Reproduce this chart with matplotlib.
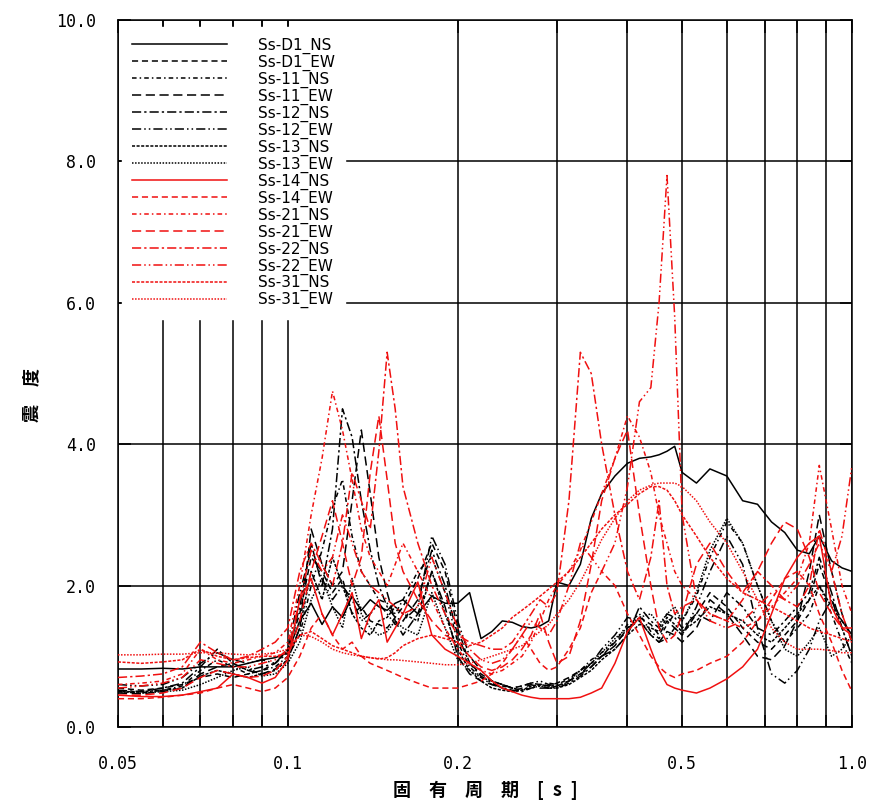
import matplotlib
matplotlib.use("Agg")
import matplotlib.pyplot as plt
from matplotlib.ticker import FixedLocator, NullFormatter

plt.rcParams['font.family'] = ['Noto Sans CJK JP', 'DejaVu Sans']

# natural period [s]
periods = [0.050, 0.055, 0.060, 0.065, 0.070, 0.075, 0.080, 0.085, 0.090, 0.095,
           0.100, 0.105, 0.110, 0.115, 0.120, 0.125, 0.130, 0.135, 0.140, 0.145,
           0.150, 0.155, 0.160, 0.170, 0.180, 0.190, 0.200, 0.210, 0.220, 0.230,
           0.240, 0.250, 0.260, 0.270, 0.280, 0.290, 0.300, 0.315, 0.330, 0.345,
           0.360, 0.380, 0.400, 0.420, 0.440, 0.455, 0.470, 0.485, 0.500, 0.530,
           0.560, 0.600, 0.640, 0.680, 0.720, 0.760, 0.800, 0.840, 0.875, 0.920,
           0.960, 1.000]

ss_d1_ns = [0.82, 0.82, 0.83, 0.82, 0.85, 0.85, 0.85, 0.90, 0.95, 0.98,
            1.05, 1.50, 1.75, 1.45, 1.70, 1.55, 1.85, 1.65, 1.80, 1.70,
            1.65, 1.75, 1.80, 1.60, 1.85, 1.75, 1.75, 1.90, 1.25, 1.35,
            1.50, 1.48, 1.42, 1.40, 1.43, 1.50, 2.05, 2.00, 2.30, 2.95,
            3.30, 3.55, 3.73, 3.80, 3.82, 3.85, 3.90, 3.97, 3.60, 3.45,
            3.65, 3.55, 3.20, 3.15, 2.90, 2.75, 2.50, 2.45, 2.70, 2.35,
            2.25, 2.20]
ss_d1_ew = [0.55, 0.52, 0.55, 0.60, 0.70, 0.75, 0.70, 0.75, 0.80, 0.90,
            1.10, 1.60, 2.40, 2.20, 1.90, 2.10, 1.60, 1.70, 1.50, 1.45,
            1.40, 1.55, 1.70, 2.10, 2.60, 2.20, 1.40, 0.90, 0.75, 0.65,
            0.60, 0.55, 0.58, 0.62, 0.60, 0.58, 0.62, 0.70, 0.80, 0.90,
            1.00, 1.20, 1.35, 1.55, 1.45, 1.30, 1.50, 1.40, 1.30, 1.60,
            1.90, 1.70, 1.40, 1.20, 1.10, 1.30, 1.50, 1.80, 2.30, 1.80,
            1.50, 1.30]
ss_11_ns = [0.50, 0.48, 0.52, 0.58, 0.80, 0.95, 0.85, 0.75, 0.80, 0.85,
            1.00, 1.30, 2.00, 2.50, 3.10, 3.50, 2.70, 2.20, 2.00, 1.80,
            1.75, 1.60, 1.80, 2.20, 2.40, 1.90, 1.20, 0.85, 0.70, 0.60,
            0.58, 0.55, 0.52, 0.55, 0.60, 0.62, 0.60, 0.68, 0.80, 0.95,
            1.05, 1.20, 1.45, 1.60, 1.35, 1.25, 1.45, 1.60, 1.50, 1.85,
            2.40, 2.90, 2.60, 2.00, 1.50, 1.20, 1.40, 1.60, 2.00, 1.60,
            1.20, 0.90]
ss_11_ew = [0.48, 0.47, 0.50, 0.55, 0.75, 0.85, 0.90, 0.80, 0.75, 0.82,
            0.95, 1.40, 2.80, 2.30, 2.00, 2.20, 3.20, 4.20, 3.30, 2.40,
            1.90, 1.50, 1.30, 1.60, 2.20, 1.70, 1.00, 0.75, 0.65, 0.60,
            0.55, 0.50, 0.55, 0.60, 0.55, 0.55, 0.58, 0.65, 0.75, 0.85,
            1.00, 1.15, 1.40, 1.50, 1.30, 1.20, 1.35, 1.30, 1.20, 1.40,
            1.80, 1.60, 1.30, 1.00, 0.95, 1.15, 1.50, 2.20, 3.00, 2.20,
            1.60, 1.20]
ss_12_ns = [0.52, 0.50, 0.55, 0.62, 0.85, 1.10, 0.90, 0.80, 0.85, 0.90,
            1.05, 1.70, 2.60, 2.00, 2.80, 4.50, 4.10, 3.20, 2.50, 2.00,
            1.70, 1.55, 1.50, 1.80, 2.50, 2.00, 1.30, 0.90, 0.72, 0.62,
            0.55, 0.52, 0.50, 0.55, 0.58, 0.55, 0.55, 0.62, 0.72, 0.85,
            1.00, 1.10, 1.30, 1.70, 1.50, 1.40, 1.60, 1.55, 1.40, 1.60,
            1.50, 1.90, 1.70, 1.40, 1.30, 1.50, 1.70, 1.90, 2.40, 1.90,
            1.40, 1.00]
ss_12_ew = [0.60, 0.58, 0.60, 0.70, 0.90, 1.05, 0.95, 0.90, 0.95, 0.90,
            1.10, 1.90, 2.50, 2.10, 1.80, 2.00, 1.80, 1.50, 1.60, 1.75,
            1.60, 1.45, 1.50, 1.70, 2.70, 2.30, 1.50, 1.00, 0.80, 0.65,
            0.60, 0.55, 0.58, 0.62, 0.65, 0.60, 0.58, 0.65, 0.75, 0.90,
            1.10, 1.30, 1.55, 1.50, 1.30, 1.20, 1.25, 1.40, 1.30, 1.70,
            2.20, 2.70, 2.30, 1.40, 0.75, 0.62, 0.80, 1.10, 1.50, 1.80,
            1.40, 1.00]
ss_13_ns = [0.50, 0.50, 0.52, 0.55, 0.72, 0.80, 0.75, 0.70, 0.75, 0.80,
            0.95, 1.40, 2.20, 1.80, 2.40, 2.00, 1.60, 1.40, 1.30, 1.50,
            1.55, 1.70, 1.60, 1.50, 2.20, 1.60, 1.10, 0.80, 0.65, 0.55,
            0.52, 0.50, 0.52, 0.58, 0.60, 0.58, 0.55, 0.60, 0.70, 0.80,
            0.95, 1.10, 1.30, 1.45, 1.40, 1.35, 1.55, 1.45, 1.35, 1.50,
            1.70, 1.60, 1.50, 1.30, 1.20, 1.40, 1.60, 1.80, 2.00, 1.70,
            1.50, 1.30]
ss_13_ew = [0.50, 0.48, 0.50, 0.52, 0.60, 0.70, 0.80, 0.85, 0.72, 0.75,
            0.90, 1.20, 1.80, 2.10, 1.70, 1.40, 2.10, 1.60, 1.40, 1.30,
            1.35, 1.50, 1.40, 1.30, 1.90, 1.40, 0.95, 0.80, 0.70, 0.65,
            0.60, 0.55, 0.52, 0.55, 0.58, 0.55, 0.55, 0.65, 0.80, 0.90,
            1.05, 1.25, 1.40, 1.55, 1.60, 1.45, 1.60, 1.70, 1.50, 1.90,
            2.50, 2.95, 2.60, 2.00, 1.50, 1.10, 1.00, 1.20, 1.40, 1.00,
            1.10, 1.30]
ss_14_ns = [0.45, 0.43, 0.43, 0.45, 0.50, 0.55, 0.75, 0.70, 0.62, 0.70,
            0.95, 1.80, 2.10, 1.60, 1.30, 1.60, 1.90, 1.25, 1.60, 1.80,
            1.20, 1.40, 1.60, 2.05, 1.30, 1.10, 1.00, 0.90, 0.80, 0.65,
            0.55, 0.50, 0.45, 0.42, 0.40, 0.40, 0.40, 0.40, 0.42, 0.48,
            0.55, 0.90, 1.35, 1.55, 1.10, 0.80, 0.60, 0.55, 0.52, 0.48,
            0.55, 0.68, 0.85, 1.10, 1.60, 2.10, 2.40, 2.60, 2.70, 1.70,
            1.40, 1.40]
ss_14_ew = [0.40, 0.40, 0.42, 0.45, 0.48, 0.55, 0.60, 0.55, 0.50, 0.55,
            0.70, 1.00, 1.40, 1.60, 1.30, 1.10, 1.20, 1.00, 0.90, 0.85,
            0.80, 0.75, 0.70, 0.62, 0.55, 0.55, 0.55, 0.60, 0.65, 0.75,
            0.90, 1.10, 1.30, 1.10, 0.90, 0.80, 0.85, 1.10, 1.40, 1.90,
            2.20, 2.00, 1.60, 1.30, 1.00, 0.85, 0.75, 0.70, 0.75, 0.80,
            0.90, 1.00, 1.20, 1.50, 1.80, 2.10, 2.20, 2.00, 1.60, 1.20,
            0.80, 0.50]
ss_21_ns = [0.60, 0.62, 0.65, 0.75, 1.10, 0.95, 0.90, 0.95, 1.00, 1.05,
            1.20, 2.00, 3.00, 3.80, 4.75, 4.20, 3.50, 2.80, 2.40, 2.20,
            2.00, 2.30, 2.60, 2.20, 1.80, 1.40, 1.10, 0.90, 0.80, 0.75,
            0.80, 0.90, 1.00, 1.20, 1.50, 1.80, 2.00, 2.20, 2.50, 2.90,
            3.30, 3.80, 4.40, 4.10, 3.60, 3.00, 2.60, 2.20, 2.00, 1.80,
            1.60, 1.50, 1.40, 1.50, 1.70, 1.90, 2.10, 2.60, 3.70, 2.80,
            2.00, 1.60]
ss_21_ew = [0.45, 0.45, 0.48, 0.55, 0.70, 0.80, 0.75, 0.70, 0.72, 0.80,
            1.00, 1.50, 2.20, 2.70, 3.20, 2.60, 2.00, 2.40, 3.60, 4.40,
            3.50, 2.60, 2.20, 1.80, 1.50, 1.30, 1.20, 1.00, 0.85, 0.80,
            0.85, 0.95, 1.10, 1.30, 1.60, 1.20, 0.90, 1.00, 1.50, 2.30,
            3.20, 3.80, 4.20, 3.00, 2.00, 1.40, 1.20, 1.30, 1.60, 2.30,
            2.60, 2.20, 1.90, 2.20, 2.60, 2.90, 2.80, 2.40, 1.90, 1.60,
            1.40, 1.30]
ss_22_ns = [0.70, 0.72, 0.75, 0.85, 1.20, 1.05, 0.95, 1.00, 1.10, 1.20,
            1.40, 2.20, 2.60, 2.30, 2.00, 2.60, 3.60, 3.20, 2.80, 3.90,
            5.30, 4.50, 3.40, 2.60, 2.00, 1.60, 1.30, 1.20, 1.15, 1.10,
            1.10, 1.20, 1.40, 1.60, 1.80, 1.70, 1.90, 3.20, 5.30, 5.00,
            4.00, 3.00, 2.20, 1.80, 2.40, 3.20, 2.00, 1.60, 1.70, 1.80,
            1.60, 1.50, 1.80, 2.20, 2.00, 1.80, 1.70, 2.00, 2.80, 2.20,
            1.60, 1.20]
ss_22_ew = [0.55, 0.58, 0.62, 0.70, 0.95, 0.90, 0.85, 0.85, 0.90, 0.95,
            1.10, 1.80, 2.50, 2.20, 2.40, 3.00, 2.60, 2.20, 2.00, 1.90,
            1.80, 1.70, 1.60, 1.70, 2.40, 1.90, 1.40, 1.10, 0.95, 0.90,
            0.95, 1.10, 1.30, 1.50, 1.40, 1.30, 1.50, 2.00, 2.60, 2.40,
            2.20, 2.60, 3.40, 4.60, 4.80, 6.00, 7.80, 5.80, 3.00, 1.80,
            1.50, 1.40, 1.50, 1.70, 1.90, 1.80, 2.00, 2.30, 2.60, 2.20,
            2.70, 3.70]
ss_31_ns = [0.92, 0.90, 0.92, 0.95, 1.10, 1.00, 0.95, 0.98, 1.00, 1.00,
            1.05, 1.30, 1.35, 1.25, 1.15, 1.10, 1.05, 1.00, 0.98, 0.96,
            0.98, 1.05, 1.15, 1.25, 1.30, 1.25, 1.20, 1.15, 1.20, 1.30,
            1.40, 1.55, 1.65, 1.75, 1.85, 1.95, 2.05, 2.20, 2.40, 2.60,
            2.80, 3.00, 3.15, 3.30, 3.40, 3.40, 3.35, 3.20, 3.00, 2.70,
            2.40, 2.10, 1.90, 1.80, 1.70, 1.60, 1.50, 1.40, 1.35, 1.30,
            1.25, 1.20]
ss_31_ew = [1.02, 1.02, 1.03, 1.03, 1.05, 1.05, 1.03, 1.02, 1.03, 1.05,
            1.10, 1.30, 1.28, 1.20, 1.10, 1.05, 1.02, 1.00, 0.98, 0.97,
            0.95, 0.95, 0.94, 0.92, 0.90, 0.88, 0.88, 0.90, 0.95, 1.00,
            1.05, 1.10, 1.15, 1.25, 1.35, 1.45, 1.60, 1.80, 2.05, 2.35,
            2.65, 2.95, 3.20, 3.35, 3.42, 3.45, 3.45, 3.45, 3.40, 3.20,
            2.90, 2.60, 2.20, 1.80, 1.40, 1.20, 1.10, 1.10, 1.10, 1.08,
            1.05, 1.05]

names = ['Ss-D1_NS', 'Ss-D1_EW', 'Ss-11_NS', 'Ss-11_EW', 'Ss-12_NS', 'Ss-12_EW',
         'Ss-13_NS', 'Ss-13_EW', 'Ss-14_NS', 'Ss-14_EW', 'Ss-21_NS', 'Ss-21_EW',
         'Ss-22_NS', 'Ss-22_EW', 'Ss-31_NS', 'Ss-31_EW']
series = [ss_d1_ns, ss_d1_ew, ss_11_ns, ss_11_ew, ss_12_ns, ss_12_ew,
          ss_13_ns, ss_13_ew, ss_14_ns, ss_14_ew, ss_21_ns, ss_21_ew,
          ss_22_ns, ss_22_ew, ss_31_ns, ss_31_ew]

# dash patterns, the same sequence is used for the black and the red group
dashes = ['-', (0, (4, 2.5)), (0, (3, 2, 1, 2)), (0, (6, 3)),
          (0, (6, 2, 1.5, 2)), (0, (6, 2, 1, 2, 1, 2)), (0, (2, 1)), (0, (1, 1))]
colors = ['black'] * 8 + ['#f01010'] * 8

fig = plt.figure(figsize=(8.77, 8.09), dpi=100)
ax = fig.add_axes([0.1345, 0.1014, 0.8370, 0.8739])

for i, (name, vals) in enumerate(zip(names, series)):
    ax.plot(periods, vals, color=colors[i], linestyle=dashes[i % 8],
            linewidth=1.1, label=name, zorder=3)

ax.set_xscale('log')
ax.set_xlim(0.05, 1.0)
ax.set_ylim(0, 10)
ax.set_xticks([0.05, 0.1, 0.2, 0.5, 1.0])
ax.set_xticklabels(['0.05', '0.1', '0.2', '0.5', '1.0'])
ax.xaxis.set_minor_locator(FixedLocator([0.06, 0.07, 0.08, 0.09, 0.3, 0.4,
                                         0.6, 0.7, 0.8, 0.9]))
ax.xaxis.set_minor_formatter(NullFormatter())
ax.set_yticks([0, 2, 4, 6, 8, 10])
ax.set_yticklabels(['0.0', '2.0', '4.0', '6.0', '8.0', '10.0'])

ax.grid(True, which='both', axis='x', color='black', linewidth=1.1, zorder=1)
ax.grid(True, which='major', axis='y', color='black', linewidth=1.1, zorder=1)
ax.set_axisbelow(True)
ax.tick_params(which='both', direction='in', top=True, right=True,
               length=9, width=1.1)
ax.tick_params(axis='x', pad=20)
ax.tick_params(axis='y', pad=16)
for lab in ax.get_xticklabels() + ax.get_yticklabels():
    lab.set_family('DejaVu Sans Mono')
    lab.set_fontsize(12)
for sp in ax.spines.values():
    sp.set_linewidth(1.1)

ax.set_xlabel('固\u3000有\u3000周\u3000期\u3000[\u2002s\u2002]', fontsize=13,
              fontweight='bold', labelpad=6)
ax.set_ylabel('震\u3000度', fontsize=13, fontweight='bold')
ax.yaxis.set_label_coords(-0.105, 0.47)

leg = ax.legend(loc='upper left', bbox_to_anchor=(0.005, 0.99),
                borderaxespad=0, frameon=True, fancybox=False,
                facecolor='white', edgecolor='white', framealpha=1,
                handlelength=6.2, handletextpad=2.0, labelspacing=0.05,
                borderpad=0.7,
                prop={'family': ['Liberation Sans Narrow', 'DejaVu Sans'],
                      'size': 11})
leg.set_zorder(5)

fig.savefig('out.png', dpi=100)
